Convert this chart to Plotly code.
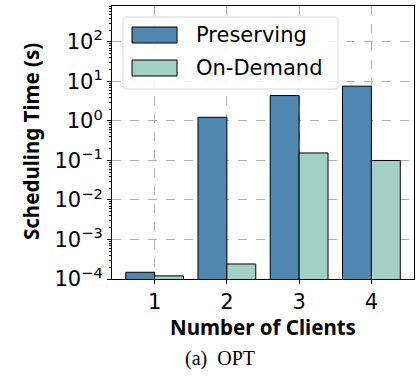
import plotly.graph_objects as go

clients = [1, 2, 3, 4]
tick_labels = ["1", "2", "3", "4"]
preserving = [1.48e-4, 1.24, 4.4, 7.6]
on_demand = [1.2e-4, 2.4e-4, 0.155, 0.10]
y_tickvals = [1e-4, 1e-3, 1e-2, 1e-1, 1e0, 1e1, 1e2]
y_ticktext = ["10<sup>−4</sup>", "10<sup>−3</sup>", "10<sup>−2</sup>", "10<sup>−1</sup>",
              "10<sup>0</sup>", "10<sup>1</sup>", "10<sup>2</sup>"]
series_names = ["Preserving", "On-Demand"]
colors = ["#4f87b0", "#a2d0c5"]

minor_vals = [m * 10.0 ** e for e in range(-4, 3) for m in range(2, 10)]

fig = go.Figure()
for name, vals, col in zip(series_names, [preserving, on_demand], colors):
    fig.add_trace(go.Bar(x=clients, y=vals, name=name, marker=dict(color=col, line=dict(color="black", width=1)),
                         showlegend=False))

W, H = 419, 379
L, R, T, B = 112, 5, 6, 100
pw, ph = W - L - R, H - T - B

def px(x):
    return (x - L) / pw

def py(y):
    return (H - B - y) / ph

fig.update_layout(
    width=W, height=H,
    margin=dict(l=L, r=R, t=T, b=B),
    plot_bgcolor="white", paper_bgcolor="white",
    barmode="group", bargap=0.2, bargroupgap=0,
    font=dict(family="DejaVu Sans", size=21, color="black"),
)
fig.update_xaxes(range=[0.41, 4.59], tickvals=clients, ticktext=tick_labels,
                 showline=True, linecolor="black", linewidth=1, mirror=True,
                 ticks="outside", ticklen=4, tickcolor="black",
                 showgrid=True, gridcolor="#b0b0b0", griddash="dash", gridwidth=1,
                 zeroline=False)
fig.update_yaxes(type="log", range=[-4, 2.91], tickvals=y_tickvals, ticktext=y_ticktext,
                 showline=True, linecolor="black", linewidth=1, mirror=True,
                 ticks="outside", ticklen=4, tickcolor="black",
                 showgrid=True, gridcolor="#b0b0b0", griddash="dash", gridwidth=1,
                 minor=dict(tickvals=minor_vals, ticks="outside", ticklen=2, tickcolor="black", showgrid=False),
                 zeroline=False)

# custom legend box with rounded corners
x0, x1, y0, y1, r = 123, 338, 17, 89, 4
def P(x, y):
    return f"{px(x):.5f},{py(y):.5f}"
legend_path = (f"M {P(x0 + r, y0)} L {P(x1 - r, y0)} Q {P(x1, y0)} {P(x1, y0 + r)} "
               f"L {P(x1, y1 - r)} Q {P(x1, y1)} {P(x1 - r, y1)} L {P(x0 + r, y1)} "
               f"Q {P(x0, y1)} {P(x0, y1 - r)} L {P(x0, y0 + r)} Q {P(x0, y0)} {P(x0 + r, y0)} Z")
shapes = [dict(type="path", xref="paper", yref="paper", path=legend_path,
               fillcolor="rgba(255,255,255,0.9)", line=dict(color="#d6d6d6", width=1), layer="above")]
annotations = []
for i, (name, col) in enumerate(zip(series_names, colors)):
    yc = 35 + i * 33
    shapes.append(dict(type="rect", xref="paper", yref="paper", x0=px(132), x1=px(177),
                       y0=py(yc + 8), y1=py(yc - 8), fillcolor=col, line=dict(color="black", width=1), layer="above"))
    annotations.append(dict(text=name, xref="paper", yref="paper", x=px(194), y=py(yc), xanchor="left",
                            yanchor="middle", showarrow=False, font=dict(family="DejaVu Sans", size=21)))

annotations.append(dict(text="<b>Number of Clients</b>", xref="paper", yref="paper", x=px(263), y=py(327),
                        xanchor="center", yanchor="middle", showarrow=False,
                        font=dict(family="Noto Sans", size=20.5)))
annotations.append(dict(text="<b>Scheduling Time (s)</b>", xref="paper", yref="paper", x=px(31), y=py(142),
                        xanchor="center", yanchor="middle", textangle=-90, showarrow=False,
                        font=dict(family="Noto Sans", size=20.5)))
annotations.append(dict(text="(a)  OPT", xref="paper", yref="paper", x=px(220), y=py(358),
                        xanchor="center", yanchor="middle", showarrow=False,
                        font=dict(family="Liberation Serif", size=20)))
fig.update_layout(shapes=shapes, annotations=annotations)

fig.write_html("out.html", post_script="document.body.style.margin='0';",
               config={"displayModeBar": False})
